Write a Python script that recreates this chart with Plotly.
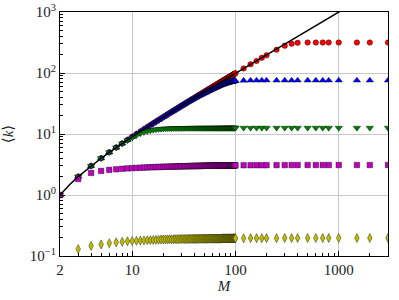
import plotly.graph_objects as go

M = [2, 3, 4, 5, 6, 7, 8, 9, 10,
     11, 12, 13, 14, 15, 16, 17, 18, 19, 20,
     21, 22, 23, 24, 25, 26, 27, 28, 29, 30,
     31, 32, 33, 34, 35, 36, 37, 38, 39, 40,
     41, 42, 43, 44, 45, 46, 47, 48, 49, 50,
     51, 52, 53, 54, 55, 56, 57, 58, 59, 60,
     61, 62, 63, 64, 65, 66, 67, 68, 69, 70,
     71, 72, 73, 74, 75, 76, 77, 78, 79, 80,
     81, 82, 83, 84, 85, 86, 87, 88, 89, 90,
     91, 92, 93, 94, 95, 96, 97, 98, 99, 100,
     120, 140, 160, 180, 200, 250, 300, 350, 400, 500, 600, 700, 800, 1000, 1500, 2000, 3000]

k_red = [1, 2, 3, 4, 5, 6, 7, 8, 9,
         10, 11, 12, 13, 14, 15, 16, 17, 18, 19,
         20, 21, 22, 23, 24, 25, 26, 27, 28, 29,
         30, 31, 32, 33, 34, 35, 36, 37, 38, 39,
         40, 41, 42, 43, 44, 45, 46, 47, 48, 49,
         50, 51, 52, 53, 54, 55, 56, 57, 58, 59,
         60, 61, 62, 63, 64, 65, 66, 67, 68, 69,
         70, 71, 72, 73, 74, 75, 76, 77, 78, 79,
         80, 81, 82, 83, 84, 85, 86, 87, 88, 89,
         90, 91, 92, 93, 94, 95, 96, 97, 98, 99,
         119, 139, 158, 177, 195, 240, 280, 302, 312, 316, 316, 316, 316, 316, 316, 316, 316]

k_blue = [1, 2, 3, 4, 5, 6, 7, 8, 9,
          10, 11, 12, 13, 14, 15, 16, 17, 18, 19,
          20, 21, 22, 23, 24, 25, 26, 27, 28, 29,
          30, 31, 32, 33, 33.9, 34.9, 35.8, 36.7, 37.6, 38.5,
          39.4, 40.3, 41.2, 42.1, 42.9, 43.7, 44.5, 45.3, 46.2, 47.0,
          47.8, 48.6, 49.4, 50.2, 51.0, 51.8, 52.6, 53.4, 54.2, 55.0,
          55.7, 56.4, 57.1, 57.8, 58.5, 59.2, 59.9, 60.6, 61.3, 62.0,
          62.6, 63.2, 63.7, 64.3, 64.8, 65.3, 65.9, 66.4, 67.0, 67.5,
          67.9, 68.3, 68.8, 69.2, 69.6, 70.0, 70.4, 70.8, 71.2, 71.5,
          71.8, 72.1, 72.4, 72.7, 73.0, 73.3, 73.6, 73.9, 74.1, 74.3,
          75.3, 75.6, 75.7, 75.7, 75.7, 75.7, 75.7, 75.7, 75.7, 75.7, 75.7, 75.7, 75.7, 75.7, 75.7, 75.7, 75.7]

k_green = [1, 2, 3, 4, 5, 6, 6.95, 7.85, 8.7,
           9.5, 10.2, 10.7, 11.1, 11.4, 11.65, 11.85, 12.0, 12.1, 12.2,
           12.25, 12.3, 12.33, 12.36, 12.39, 12.41, 12.43, 12.45, 12.46, 12.47,
           12.48, 12.49, 12.5, 12.5, 12.51, 12.51, 12.52, 12.52, 12.53, 12.53,
           12.54, 12.54, 12.54, 12.54, 12.54, 12.54, 12.54, 12.54, 12.54, 12.54,
           12.55, 12.55, 12.55, 12.55, 12.55, 12.55, 12.55, 12.55, 12.55, 12.55,
           12.56, 12.56, 12.56, 12.56, 12.56, 12.56, 12.56, 12.56, 12.56, 12.56,
           12.57, 12.57, 12.57, 12.57, 12.57, 12.57, 12.57, 12.57, 12.57, 12.57,
           12.58, 12.58, 12.58, 12.58, 12.58, 12.58, 12.58, 12.58, 12.58, 12.58,
           12.59, 12.59, 12.59, 12.59, 12.59, 12.59, 12.59, 12.59, 12.59, 12.59,
           12.6, 12.6, 12.6, 12.6, 12.6, 12.6, 12.6, 12.6, 12.6, 12.6, 12.6, 12.6, 12.6, 12.6, 12.6, 12.6, 12.6]

k_magenta = [1, 1.83, 2.3, 2.48, 2.58, 2.64, 2.69, 2.73, 2.76,
             2.78, 2.8, 2.82, 2.83, 2.85, 2.86, 2.87, 2.88, 2.89, 2.9,
             2.905, 2.91, 2.915, 2.92, 2.93, 2.935, 2.94, 2.945, 2.95, 2.955,
             2.96, 2.96, 2.965, 2.97, 2.97, 2.975, 2.98, 2.98, 2.985, 2.99,
             2.99, 2.99, 2.995, 3.0, 3.0, 3.0, 3.005, 3.01, 3.01, 3.01,
             3.015, 3.015, 3.02, 3.02, 3.02, 3.025, 3.025, 3.025, 3.03, 3.03,
             3.03, 3.03, 3.035, 3.035, 3.035, 3.035, 3.04, 3.04, 3.04, 3.04,
             3.04, 3.045, 3.045, 3.045, 3.045, 3.045, 3.05, 3.05, 3.05, 3.05,
             3.05, 3.05, 3.055, 3.055, 3.055, 3.055, 3.055, 3.055, 3.06, 3.06,
             3.06, 3.06, 3.06, 3.06, 3.06, 3.06, 3.06, 3.06, 3.06, 3.06,
             3.07, 3.075, 3.08, 3.08, 3.085, 3.09, 3.09, 3.095, 3.095, 3.1, 3.1, 3.1, 3.1, 3.1, 3.1, 3.1, 3.1]

k_yellow = [None, 0.13, 0.146, 0.155, 0.162, 0.167, 0.171, 0.174, 0.176,
            0.178, 0.179, 0.18, 0.181, 0.182, 0.183, 0.184, 0.185, 0.186, 0.186,
            0.187, 0.187, 0.188, 0.188, 0.188, 0.189, 0.189, 0.189, 0.19, 0.19,
            0.19, 0.19, 0.19, 0.19, 0.191, 0.191, 0.191, 0.191, 0.191, 0.191,
            0.191, 0.191, 0.191, 0.192, 0.192, 0.192, 0.192, 0.192, 0.192, 0.192,
            0.192, 0.192, 0.192, 0.192, 0.193, 0.193, 0.193, 0.193, 0.193, 0.193,
            0.193, 0.193, 0.193, 0.193, 0.193, 0.193, 0.193, 0.193, 0.193, 0.193,
            0.193, 0.193, 0.193, 0.193, 0.194, 0.194, 0.194, 0.194, 0.194, 0.194,
            0.194, 0.194, 0.194, 0.194, 0.194, 0.194, 0.194, 0.194, 0.194, 0.194,
            0.194, 0.194, 0.194, 0.194, 0.194, 0.195, 0.195, 0.195, 0.195, 0.195,
            0.195, 0.196, 0.196, 0.196, 0.196, 0.196, 0.197, 0.197, 0.197, 0.197, 0.197, 0.197, 0.197, 0.197, 0.197, 0.197, 0.197]

line_M = [2, 2.5, 3, 4, 5, 6, 7, 8, 10, 12, 15, 20, 30, 50, 100, 200, 500, 1000, 2000, 3000]
line_k = [1, 1.5, 2, 3, 4, 5, 6, 7, 9, 11, 14, 19, 29, 49, 99, 199, 499, 999, 1999, 2999]

x_tickvals = [2, 10, 100, 1000]
x_ticktext = ["2", "10", "100", "1000"]
y_tickvals = [0.1, 1, 10, 100, 1000]
y_ticktext = ["10<sup>−1</sup>", "10<sup>0</sup>", "10<sup>1</sup>", "10<sup>2</sup>", "10<sup>3</sup>"]

series = [
    (k_red, "#ff0000", "circle", 5.5),
    (k_blue, "#0000ff", "triangle-up", 6.5),
    (k_green, "#008000", "triangle-down", 6.5),
    (k_magenta, "#bf00bf", "square", 5.5),
    (k_yellow, "#bfbf00", "diamond-tall", 6.5),
]

fig = go.Figure()
for ys, col, sym, sz in series:
    fig.add_trace(go.Scatter(
        x=M, y=ys, mode="markers",
        marker=dict(color=col, symbol=sym, size=sz, line=dict(color="black", width=0.4)),
        showlegend=False))
fig.add_trace(go.Scatter(x=line_M, y=line_k, mode="lines",
                         line=dict(color="black", width=1.5), showlegend=False))

font = dict(family="Liberation Serif, DejaVu Serif, serif", size=15, color="#222")

x_minor = [m * 10 ** e for e in range(0, 4) for m in range(2, 10) if 2 <= m * 10 ** e <= 3000]
y_minor = [m * 10 ** e for e in range(-1, 3) for m in range(2, 10)]

fig.update_xaxes(type="log", range=[0.30103, 3.4771], automargin=False,
                 tickvals=x_tickvals, ticktext=x_ticktext,
                 ticks="inside", ticklen=5, tickcolor="black",
                 showline=True, linecolor="black", linewidth=1.2, mirror=True,
                 showgrid=True, gridcolor="#c8c8c8", gridwidth=1,
                 minor=dict(tickvals=x_minor, ticks="inside", ticklen=2.5, tickcolor="black", showgrid=False),
                 zeroline=False, tickfont=font,
                 title=dict(text="<i>M</i>", font=font, standoff=2))
fig.update_yaxes(type="log", range=[-1, 3], automargin=False,
                 tickvals=y_tickvals, ticktext=y_ticktext,
                 ticks="inside", ticklen=5, tickcolor="black",
                 showline=True, linecolor="black", linewidth=1.2, mirror=True,
                 showgrid=True, gridcolor="#c8c8c8", gridwidth=1,
                 minor=dict(tickvals=y_minor, ticks="inside", ticklen=2.5, tickcolor="black", showgrid=False),
                 zeroline=False, tickfont=font,
                 title=dict(text="⟨<i>k</i>⟩", font=font, standoff=14))

fig.update_layout(width=399, height=300, margin=dict(l=60, r=11.3, t=11.7, b=44),
                  plot_bgcolor="white", paper_bgcolor="white")

fig.write_html("out.html", config={"displayModeBar": False},
               post_script="document.body.style.margin='0px';")
